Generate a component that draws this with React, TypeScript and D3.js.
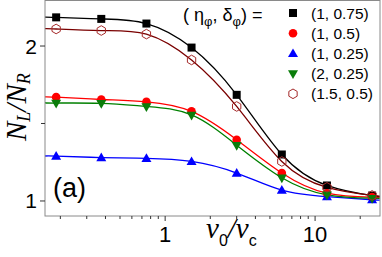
import React from "react";
import * as d3 from "d3";

const xVals = [0.1875, 0.375, 0.75, 1.5, 3, 6, 12, 24];
const blackVals = [2.185, 2.175, 2.145, 1.99, 1.685, 1.3, 1.1, 1.035];
const redVals = [1.67, 1.655, 1.64, 1.578, 1.395, 1.18, 1.05, 1.025];
const blueVals = [1.29, 1.28, 1.275, 1.255, 1.18, 1.07, 1.028, 1.008];
const greenVals = [1.632, 1.63, 1.61, 1.555, 1.36, 1.15, 1.04, 1.018];
const brownVals = [2.11, 2.1, 2.077, 1.91, 1.61, 1.255, 1.088, 1.036];
const lineEdgeX = [0.158, 27.1];
const blackEdges = [2.187, 1.03];
const redEdges = [1.672, 1.022];
const blueEdges = [1.29, 1.006];
const greenEdges = [1.634, 1.016];
const brownEdges = [2.112, 1.032];
const legendLabels = ["(1, 0.75)", "(1, 0.5)", "(1, 0.25)", "(2, 0.25)", "(1.5, 0.5)"];
const xMajorTicks = [1, 10];
const xMinorTicks = [0.2, 0.3, 0.4, 0.5, 0.6, 0.7, 0.8, 0.9, 2, 3, 4, 5, 6, 7, 8, 9, 20];
const yMajorTicks = [1, 2];
const yMinorTicks = [1.5];

const W = 382, H = 257;
const L = 45, R = 380, T = 0.5, B = 216;

type Shape = "square" | "circle" | "tri" | "tridown" | "hex";

const series: { vals: number[]; edges: number[]; line: string; fill: string; shape: Shape }[] = [
  { vals: blackVals, edges: blackEdges, line: "#000000", fill: "#000000", shape: "square" },
  { vals: redVals, edges: redEdges, line: "#ff0000", fill: "#ff0000", shape: "circle" },
  { vals: blueVals, edges: blueEdges, line: "#0000ff", fill: "#0000ff", shape: "tri" },
  { vals: greenVals, edges: greenEdges, line: "#008000", fill: "#0a7d0a", shape: "tridown" },
  { vals: brownVals, edges: brownEdges, line: "#7a0000", fill: "#a52a2a", shape: "hex" },
];

function Marker({ shape, cx, cy, color }: { shape: Shape; cx: number; cy: number; color: string }) {
  if (shape === "square") return <rect x={cx - 4} y={cy - 4} width={8} height={8} fill={color} />;
  if (shape === "circle") return <circle cx={cx} cy={cy} r={4.3} fill={color} />;
  if (shape === "tri")
    return <path d={`M${cx},${cy - 5}L${cx + 5},${cy + 3.6}L${cx - 5},${cy + 3.6}Z`} fill={color} />;
  if (shape === "tridown")
    return <path d={`M${cx},${cy + 5.5}L${cx + 5},${cy - 3.3}L${cx - 5},${cy - 3.3}Z`} fill={color} />;
  const r = 4.8;
  const pts = d3.range(6).map((i) => {
    const a = (Math.PI / 3) * i - Math.PI / 2;
    return [cx + r * Math.cos(a), cy + r * Math.sin(a)];
  });
  return <path d={"M" + pts.map((p) => p.join(",")).join("L") + "Z"} fill="none" stroke={color} strokeWidth={1} />;
}

export default function App() {
  const x = d3.scaleLog().domain([0.158, 27.1]).range([L, R]);
  const y = d3.scaleLinear().domain([0.903, 2.297]).range([B, 0]);
  const lineGen = d3
    .line<[number, number]>()
    .x((d) => x(d[0]))
    .y((d) => y(d[1]))
    .curve(d3.curveNatural);

  return (
    <svg width={W} height={H} style={{ position: "absolute", left: 0, top: 0 }} fontFamily="Liberation Sans, Arial, sans-serif">
      <rect width={W} height={H} fill="#fff" />
      <defs>
        <clipPath id="plotclip">
          <rect x={L} y={T} width={R - L} height={B - T} />
        </clipPath>
      </defs>
      <g clipPath="url(#plotclip)">
        {series.map((s, i) => {
          const pts: [number, number][] = [
            [lineEdgeX[0], s.edges[0]],
            ...xVals.map((xv, j) => [xv, s.vals[j]] as [number, number]),
            [lineEdgeX[1], s.edges[1]],
          ];
          return <path key={i} d={lineGen(pts) || ""} fill="none" stroke={s.line} strokeWidth={1.3} />;
        })}
        {series.map((s, i) =>
          xVals.map((xv, j) => (
            <Marker key={i + "-" + j} shape={s.shape} cx={x(xv)} cy={y(s.vals[j])} color={s.fill} />
          ))
        )}
      </g>
      <rect x={L} y={T} width={R - L} height={B - T} fill="none" stroke="#8a8a8a" strokeWidth={1} />
      {xMajorTicks.map((t) => (
        <g key={"xM" + t}>
          <line x1={x(t)} x2={x(t)} y1={B} y2={B + 5} stroke="#333" strokeWidth={1} />
          <text x={x(t)} y={242} fontSize={22} textAnchor="middle" fill="#000">
            {t}
          </text>
        </g>
      ))}
      {xMinorTicks.map((t) => (
        <line key={"xm" + t} x1={x(t)} x2={x(t)} y1={B} y2={B + 3} stroke="#333" strokeWidth={1} />
      ))}
      {yMajorTicks.map((t) => (
        <g key={"yM" + t}>
          <line x1={L - 5} x2={L} y1={y(t)} y2={y(t)} stroke="#333" strokeWidth={1} />
          <text x={37} y={y(t) + 7.5} fontSize={21} textAnchor="end" fill="#000">
            {t}
          </text>
        </g>
      ))}
      {yMinorTicks.map((t) => (
        <line key={"ym" + t} x1={L - 4} x2={L} y1={y(t)} y2={y(t)} stroke="#333" strokeWidth={1} />
      ))}
      <text x={53} y={197} fontSize={27} fill="#000">
        (a)
      </text>
      <text transform="translate(26,141) rotate(-90)" fontFamily="Liberation Serif, Times New Roman, serif" fontStyle="italic" fontSize={29} fill="#000">
        N
        <tspan fontSize={18} dy={4}>L</tspan>
        <tspan dy={-4}>/N</tspan>
        <tspan fontSize={18} dy={4}>R</tspan>
      </text>
      <text x={206} y={238} fontFamily="Liberation Serif, Times New Roman, serif" fontStyle="italic" fontSize={29} fill="#000">
        v
        <tspan fontSize={16} dy={8} fontStyle="normal" fontFamily="Liberation Sans, Arial, sans-serif">0</tspan>
        <tspan dy={-8}>/v</tspan>
        <tspan fontSize={16} dy={8} fontStyle="normal" fontFamily="Liberation Sans, Arial, sans-serif">c</tspan>
      </text>
      <text x={183} y={21} fontSize={18} fill="#000">
        ( η
        <tspan fontSize={13} dy={5}>φ</tspan>
        <tspan dy={-5}>, δ</tspan>
        <tspan fontSize={13} dy={5}>φ</tspan>
        <tspan dy={-5}>) =</tspan>
      </text>
      {series.map((s, i) => {
        const cy = 13 + i * 20.2;
        return (
          <g key={"lg" + i}>
            <Marker shape={s.shape} cx={293} cy={cy} color={s.fill} />
            <text x={311} y={cy + 5.5} fontSize={15.5} fill="#000">
              {legendLabels[i]}
            </text>
          </g>
        );
      })}
    </svg>
  );
}
